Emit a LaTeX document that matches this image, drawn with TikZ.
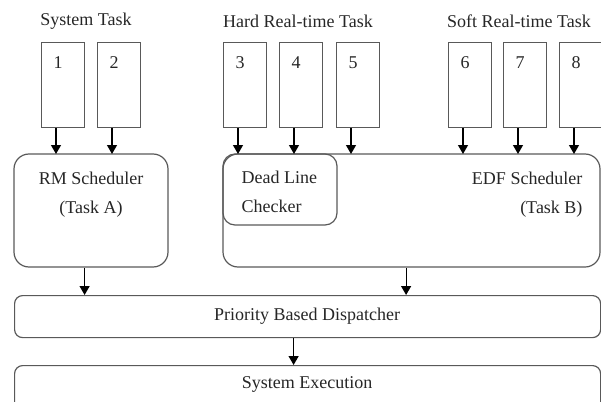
\documentclass[tikz,border=0pt]{standalone}
\usepackage{fontspec}
\setmainfont{Liberation Serif}
\usetikzlibrary{calc,arrows.meta}
\begin{document}
\begin{tikzpicture}[x=1pt,y=-1pt,
  font=\fontsize{18}{29}\selectfont,
  every node/.style={text=black!85},
  taskbox/.style={draw=black!65,line width=1.2pt,minimum width=43pt,minimum height=85pt,inner sep=0pt},
  rbox/.style={draw=black!65,line width=1.2pt,inner sep=0pt},
  num/.style={inner sep=0pt},
  arr/.style={-{Triangle[length=9pt,width=10pt]},line width=1.2pt,black}]
\useasboundingbox (0,0) rectangle (601,401);
\begin{scope}
\clip (0,0) rectangle (601,401);
% titles
\node (st) at (86,21) {System Task};
\node (ht) at (298,21) {Hard Real-time Task};
\node (sft) at (519,21) {Soft Real-time Task};
% task boxes
\foreach \i/\l in {1/41,2/97,3/223,4/279,5/336,6/448,7/503,8/559}{
  \node[taskbox,anchor=north west] (t\i) at (\l,42) {};
  \node[num] (n\i) at (\l+17,63) {\i};
}
% schedulers
\draw[rbox,rounded corners=15pt] (14,154) rectangle (168,267);
\node[rbox,draw=none,minimum width=154pt,minimum height=113pt,anchor=north west] (rm) at (14,154) {};
\node[align=center] (rmt) at (91,195) {RM Scheduler\\(Task A)};
\draw[rbox,rounded corners=15pt] (223,154) rectangle (600,267);
\node[rbox,draw=none,minimum width=377pt,minimum height=113pt,anchor=north west] (edf) at (223,154) {};
\node[align=right,anchor=east] (edft) at (586,195) {EDF Scheduler\\(Task B)};
\draw[rbox,rounded corners=12pt] (223,154) rectangle (337,225);
\node[align=left,anchor=west] (dlc) at (238,192) {Dead Line\\Checker};
% dispatcher and execution
\node[rbox,rounded corners=8pt,minimum width=586pt,minimum height=42pt,anchor=north west] (pd) at (14,295) {};
\node (pdt) at (307,316) {Priority Based Dispatcher};
\node[rbox,rounded corners=8pt,minimum width=586pt,minimum height=60pt,anchor=north west] (se) at (14,365) {};
\node (set) at (307,384) {System Execution};
% arrows tasks -> schedulers
\foreach \i in {1,2}{
  \draw[arr] ([xshift=15pt]t\i.south west) -- ([xshift=15pt]t\i.south west |- rm.north);
}
\foreach \i in {3,4,5,6,7,8}{
  \draw[arr] ([xshift=15pt]t\i.south west) -- ([xshift=15pt]t\i.south west |- edf.north);
}
\draw[arr] ([xshift=-7pt]rm.south) -- ([xshift=-7pt]rm.south |- pd.north);
\draw[arr] ([xshift=-6pt]edf.south) -- ([xshift=-6pt]edf.south |- pd.north);
\draw[arr] ([xshift=-14pt]pd.south) -- ([xshift=-14pt]pd.south |- se.north);
\end{scope}
\end{tikzpicture}
\end{document}
